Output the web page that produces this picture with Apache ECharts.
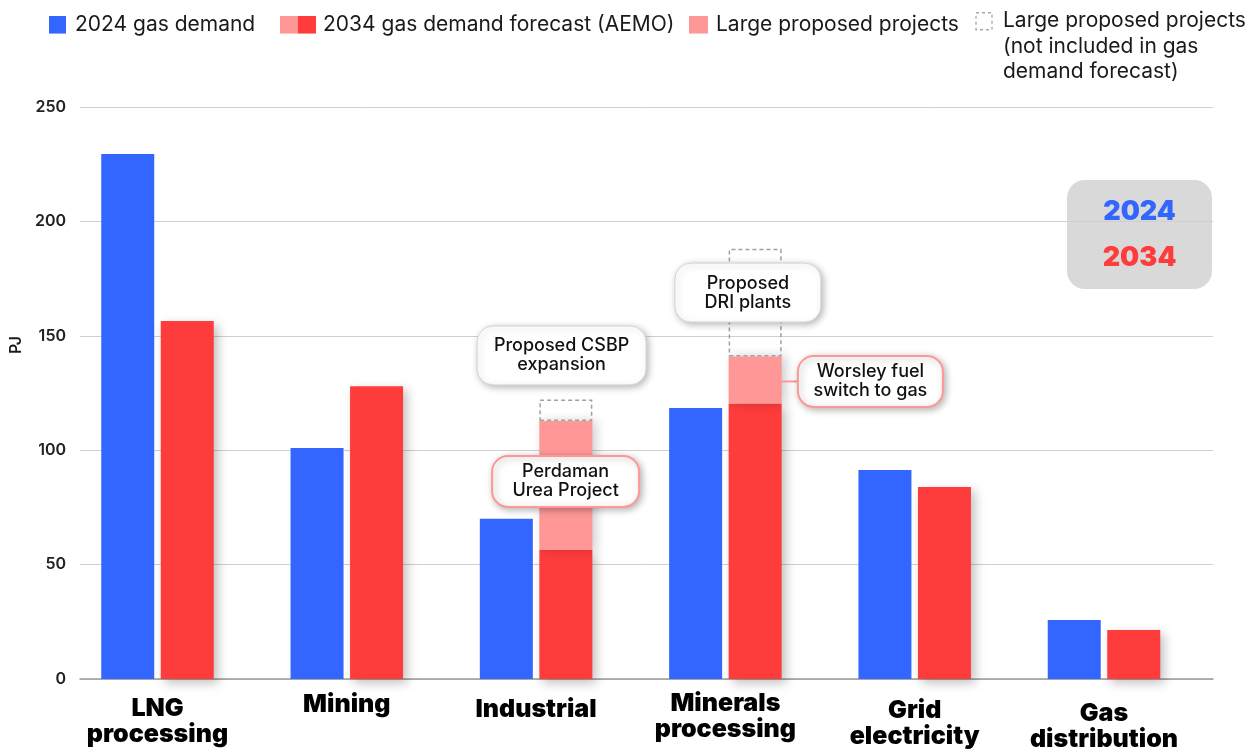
<!DOCTYPE html>
<html>
<head>
<meta charset="utf-8">
<script src="https://cdn.jsdelivr.net/npm/echarts@6/dist/echarts.min.js"></script>
<style>
  html, body { margin: 0; padding: 0; background: #ffffff; }
  #chart { width: 1254px; height: 749px; }
</style>
</head>
<body>
<div id="chart"></div>
<script>
// Western Australian gas demand by sector, 2024 vs 2034 (PJ)
const categories = ['LNG\nprocessing', 'Mining', 'Industrial', 'Minerals\nprocessing', 'Grid\nelectricity', 'Gas\ndistribution'];
const demand2024 = [229.5, 101, 70, 118.4, 91.3, 25.8];
const forecast2034 = [156.5, 128, 56.4, 120.4, 83.9, 21.4];
const proposedIncluded = [null, null, 56.4, 20.6, null, null];
const proposedExcluded = [null, null, 9.4, 47, null, null];
const yTicks = [0, 50, 100, 150, 200, 250];

const seriesNames = [
  '2024 gas demand',
  '2034 gas demand forecast (AEMO)',
  'Large proposed projects',
  'Large proposed projects\n(not included in gas\ndemand forecast)'
];

// Callouts: which bar segment each one describes
const notes = [
  { text: 'Proposed CSBP\nexpansion', category: 2, anchor: 'excludedTop' },
  { text: 'Perdaman\nUrea Project', category: 2, anchor: 'includedMid' },
  { text: 'Proposed\nDRI plants', category: 3, anchor: 'excludedMid' },
  { text: 'Worsley fuel\nswitch to gas', category: 3, anchor: 'includedMid' }
];

const BLUE = '#3366ff';
const RED = '#ff3c3c';
const PINK = '#ff9797';
const FONT = 'Inter, "Noto Sans", sans-serif';
const BAR_W = 53;
const BAR_GAP = 6.5;

function anchorValue(n) {
  const i = n.category;
  const base = forecast2034[i] || 0;
  const inc = proposedIncluded[i] || 0;
  const exc = proposedExcluded[i] || 0;
  switch (n.anchor) {
    case 'includedMid': return base + inc / 2;
    case 'excludedMid': return base + inc + exc / 2;
    case 'excludedTop': return base + inc + exc;
    default: return base;
  }
}

// Box geometry relative to the category centre / anchor point
const noteBoxes = [
  { dx: 25.5, dy: -44, w: 169, h: 59, stroke: '#d4d4d4', lw: 1 },
  { dx: 29.5, dy: -4, w: 147, h: 51, stroke: PINK, lw: 2 },
  { dx: 22.5, dy: -10, w: 146, h: 59, stroke: '#d4d4d4', lw: 1 },
  { dx: 145, dy: 1.5, w: 145, h: 51, stroke: PINK, lw: 2, connector: true }
];

// Legend swatches as small inline SVGs (transparent margin keeps text spacing)
function svgIcon(w, h, body) {
  return 'image://data:image/svg+xml;utf8,' + encodeURIComponent(
    "<svg xmlns='http://www.w3.org/2000/svg' width='" + w + "' height='" + h + "'>" + body + '</svg>');
}
const iconBlue = svgIcon(21, 18, "<rect width='17' height='18' fill='" + BLUE + "'/>");
const iconPair = svgIcon(38, 18,
  "<rect width='18' height='18' fill='" + PINK + "'/><rect x='18' width='18' height='18' fill='" + RED + "'/>");
const iconPink = svgIcon(22, 18, "<rect width='19' height='18' fill='" + PINK + "'/>");
const iconDashed = svgIcon(23, 69,
  "<rect x='1' y='1' width='16' height='17' fill='none' stroke='#a8a8a8' stroke-width='1.3' stroke-dasharray='3 3'/>");

const legendText = { fontFamily: FONT, fontSize: 21, color: '#1a1a1a', lineHeight: 25.5 };
const legendBase = { orient: 'horizontal', itemHeight: 18, padding: 0, selectedMode: false, textStyle: legendText };

const labelPads = [5, 1, 6, 0, 7, 10];

const chart = echarts.init(document.getElementById('chart'), null, { renderer: 'canvas' });

chart.setOption({
  animation: false,
  backgroundColor: '#ffffff',
  legend: [
    Object.assign({}, legendBase, { left: 49, top: 12, itemWidth: 21, data: [{ name: seriesNames[0], icon: iconBlue }] }),
    Object.assign({}, legendBase, { left: 280, top: 12, itemWidth: 38, data: [{ name: seriesNames[1], icon: iconPair }] }),
    Object.assign({}, legendBase, { left: 689, top: 12, itemWidth: 22, data: [{ name: seriesNames[2], icon: iconPink }] }),
    Object.assign({}, legendBase, { left: 975, top: 8, itemWidth: 23, itemHeight: 69, data: [{ name: seriesNames[3], icon: iconDashed }] })
  ],
  grid: [
    { left: 80, right: 41, top: 107, bottom: 70, outerBoundsMode: 'none' },
    { left: 62.85, right: 55.35, top: 107, bottom: 70, outerBoundsMode: 'none' }
  ],
  xAxis: [
    {
      gridIndex: 0, type: 'value', min: 0, max: 1,
      axisLine: { show: true, lineStyle: { color: '#9c9c9c', width: 1.5 } },
      axisTick: { show: false }, axisLabel: { show: false }, splitLine: { show: false }
    },
    {
      gridIndex: 1, type: 'category',
      data: categories.map((c, i) => ({ value: c, textStyle: { padding: [labelPads[i], 0, 0, 0] } })),
      axisLine: { show: false }, axisTick: { show: false },
      axisLabel: {
        margin: 11, interval: 0,
        fontFamily: FONT, fontWeight: 900, fontSize: 25, lineHeight: 26, color: '#000'
      }
    }
  ],
  yAxis: [
    {
      gridIndex: 0, type: 'value',
      min: yTicks[0], max: yTicks[yTicks.length - 1], interval: yTicks[1] - yTicks[0],
      name: 'PJ', nameLocation: 'middle', nameGap: 56, nameRotate: 90,
      nameTextStyle: { fontFamily: FONT, fontSize: 16, fontWeight: 600, color: '#1a1a1a', padding: [0, 0, 0, 96] },
      axisLine: { show: false }, axisTick: { show: false },
      axisLabel: { margin: 14, fontFamily: FONT, fontSize: 16, fontWeight: 600, color: '#222' },
      splitLine: { lineStyle: { color: '#cfcfcf', width: 1 } }
    },
    {
      gridIndex: 1, type: 'value',
      min: yTicks[0], max: yTicks[yTicks.length - 1], interval: yTicks[1] - yTicks[0],
      show: false
    }
  ],
  series: [
    {
      name: seriesNames[0], type: 'bar', xAxisIndex: 1, yAxisIndex: 1,
      data: demand2024, barWidth: BAR_W, barGap: (BAR_GAP / BAR_W * 100).toFixed(1) + '%',
      itemStyle: { color: BLUE }
    },
    {
      name: seriesNames[1], type: 'bar', xAxisIndex: 1, yAxisIndex: 1, stack: 'y2034',
      data: forecast2034, barWidth: BAR_W,
      itemStyle: { color: RED, shadowBlur: 10, shadowColor: 'rgba(0,0,0,0.25)', shadowOffsetX: 4, shadowOffsetY: 4 }
    },
    {
      name: seriesNames[2], type: 'bar', xAxisIndex: 1, yAxisIndex: 1, stack: 'y2034',
      data: proposedIncluded, barWidth: BAR_W,
      itemStyle: { color: PINK, shadowBlur: 10, shadowColor: 'rgba(0,0,0,0.2)', shadowOffsetX: 4, shadowOffsetY: 0 }
    },
    {
      name: seriesNames[3], type: 'bar', xAxisIndex: 1, yAxisIndex: 1, stack: 'y2034',
      data: proposedExcluded, barWidth: BAR_W,
      itemStyle: { color: 'rgba(0,0,0,0)', borderColor: '#a0a0a0', borderWidth: 1.5, borderType: [4, 3] }
    },
    {
      name: 'callouts', type: 'custom', xAxisIndex: 1, yAxisIndex: 1, z: 10, clip: false,
      data: notes.map(n => [n.category, anchorValue(n)]),
      renderItem(params, api) {
        const note = notes[params.dataIndex];
        const box = noteBoxes[params.dataIndex];
        const p = api.coord([api.value(0), api.value(1)]);
        const cx = p[0] + box.dx;
        const cy = p[1] + box.dy;
        const children = [];
        if (box.connector) {
          const barRight = p[0] + BAR_GAP / 2 + BAR_W;
          children.push({
            type: 'line',
            shape: { x1: barRight, y1: cy, x2: cx - box.w / 2, y2: cy },
            style: { stroke: PINK, lineWidth: 2 }
          });
        }
        children.push({
          type: 'rect',
          shape: { x: cx - box.w / 2, y: cy - box.h / 2, width: box.w, height: box.h, r: 16 },
          style: {
            fill: '#ffffff', stroke: box.stroke, lineWidth: box.lw,
            shadowBlur: 7, shadowColor: 'rgba(0,0,0,0.28)', shadowOffsetX: 2, shadowOffsetY: 2
          }
        });
        children.push({
          type: 'text', x: cx, y: cy,
          style: {
            text: note.text, align: 'center', verticalAlign: 'middle',
            fontFamily: FONT, fontSize: 18, fontWeight: 500, lineHeight: 19, fill: '#111'
          }
        });
        return { type: 'group', children };
      }
    }
  ],
  graphic: [
    {
      type: 'group', right: 42, top: 180,
      children: [
        { type: 'rect', shape: { x: 0, y: 0, width: 145, height: 109, r: 18 }, style: { fill: '#d9d9d9' } },
        { type: 'text', x: 72.5, y: 32, style: { text: '2024', align: 'center', verticalAlign: 'middle', fontFamily: FONT, fontWeight: 900, fontSize: 27, fill: BLUE } },
        { type: 'text', x: 72.5, y: 78, style: { text: '2034', align: 'center', verticalAlign: 'middle', fontFamily: FONT, fontWeight: 900, fontSize: 27, fill: RED } }
      ]
    }
  ]
});
</script>
</body>
</html>
